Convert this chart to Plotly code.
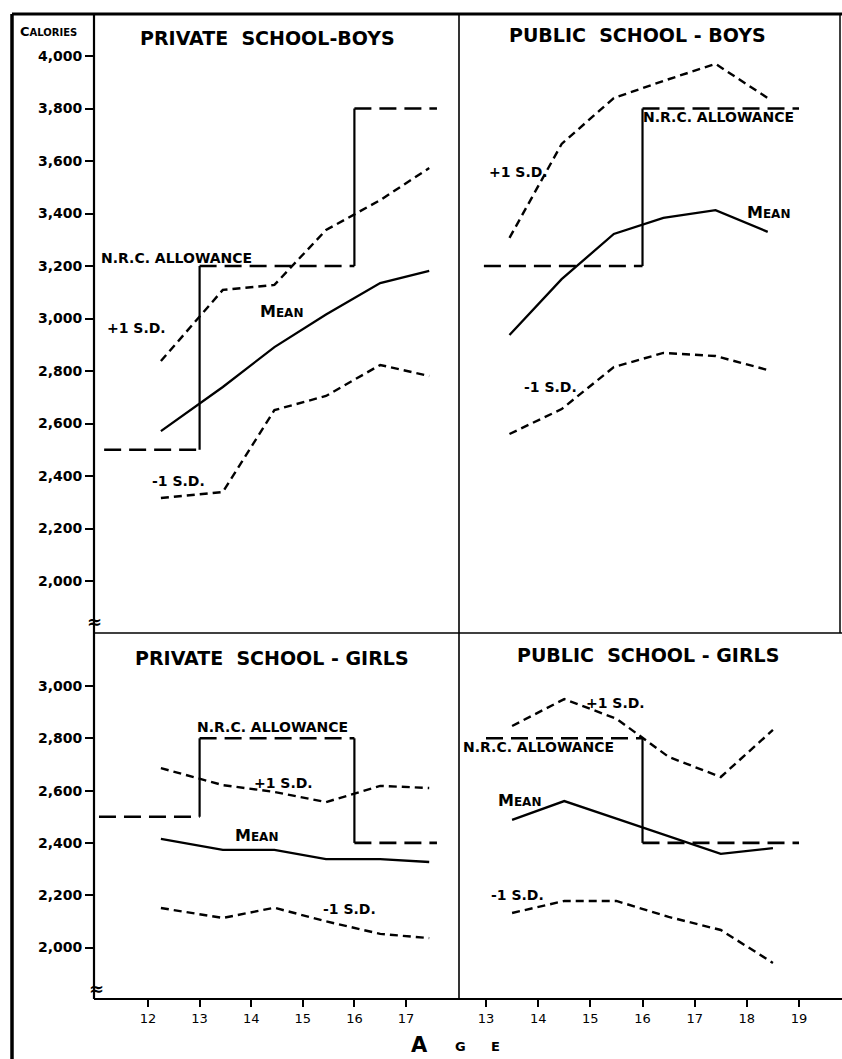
import plotly.graph_objects as go

W, H = 842, 1059

# ---------------- data ----------------
# Private school - boys
pvt_boys_age = [12.25, 13.45, 14.45, 15.45, 16.5, 17.45]
pvt_boys_mean = [2571, 2739, 2891, 3015, 3135, 3181]
pvt_boys_plus = [2838, 3109, 3128, 3337, 3451, 3573]
pvt_boys_minus = [2316, 2339, 2651, 2705, 2823, 2781]
pvt_boys_nrc_edges = [11.15, 13.0, 16.0, 17.6]
pvt_boys_nrc_levels = [2500, 3200, 3800]

# Public school - boys
pub_boys_age = [13.45, 14.45, 15.45, 16.4, 17.4, 18.4]
pub_boys_mean = [2937, 3150, 3322, 3383, 3413, 3330]
pub_boys_plus = [3307, 3665, 3840, 3905, 3970, 3840]
pub_boys_minus = [2560, 2655, 2815, 2869, 2857, 2804]
pub_boys_nrc_edges = [12.96, 16.0, 19.0]
pub_boys_nrc_levels = [3200, 3800]

# Private school - girls
pvt_girls_age = [12.25, 13.45, 14.45, 15.45, 16.5, 17.45]
pvt_girls_mean = [2415, 2373, 2373, 2338, 2338, 2327]
pvt_girls_plus = [2686, 2621, 2595, 2556, 2618, 2610]
pvt_girls_minus = [2151, 2113, 2152, 2100, 2052, 2036]
pvt_girls_nrc_edges = [11.05, 13.0, 16.0, 17.6]
pvt_girls_nrc_levels = [2500, 2800, 2400]

# Public school - girls
pub_girls_age = [13.5, 14.5, 15.5, 16.5, 17.5, 18.5]
pub_girls_mean = [2488, 2560, 2493, 2426, 2358, 2380]
pub_girls_plus = [2847, 2950, 2875, 2729, 2652, 2832]
pub_girls_minus = [2132, 2178, 2178, 2117, 2067, 1941]
pub_girls_nrc_edges = [13.0, 16.0, 19.0]
pub_girls_nrc_levels = [2800, 2400]

# axis ticks
boys_cal_ticks = [2000, 2200, 2400, 2600, 2800, 3000, 3200, 3400, 3600, 3800, 4000]
girls_cal_ticks = [2000, 2200, 2400, 2600, 2800, 3000]
private_age_ticks = [12, 13, 14, 15, 16, 17]
public_age_ticks = [13, 14, 15, 16, 17, 18, 19]

FONT = "DejaVu Sans"
INK = "black"


def px(x):
    return x / W


def py(y):
    return 1 - y / H


def cal_label(v):
    return f"{v:,}"


fig = go.Figure()

panels = [
    ("x", "y", pvt_boys_age, pvt_boys_mean, pvt_boys_plus, pvt_boys_minus,
     pvt_boys_nrc_edges, pvt_boys_nrc_levels),
    ("x2", "y2", pub_boys_age, pub_boys_mean, pub_boys_plus, pub_boys_minus,
     pub_boys_nrc_edges, pub_boys_nrc_levels),
    ("x3", "y3", pvt_girls_age, pvt_girls_mean, pvt_girls_plus, pvt_girls_minus,
     pvt_girls_nrc_edges, pvt_girls_nrc_levels),
    ("x4", "y4", pub_girls_age, pub_girls_mean, pub_girls_plus, pub_girls_minus,
     pub_girls_nrc_edges, pub_girls_nrc_levels),
]

for xa, ya, age, mean, plus, minus, edges, levels in panels:
    # N.R.C. allowance: dashed horizontal steps joined by solid risers
    hx, hy, vx, vy = [], [], [], []
    for i, lv in enumerate(levels):
        hx += [edges[i], edges[i + 1], None]
        hy += [lv, lv, None]
        if i + 1 < len(levels):
            vx += [edges[i + 1], edges[i + 1], None]
            vy += [lv, levels[i + 1], None]
    fig.add_trace(go.Scatter(x=hx, y=hy, mode="lines", xaxis=xa, yaxis=ya,
                             line=dict(color=INK, width=2.6, dash="17px,8px")))
    fig.add_trace(go.Scatter(x=vx, y=vy, mode="lines", xaxis=xa, yaxis=ya,
                             line=dict(color=INK, width=2.2)))
    # +/- 1 S.D. bands
    for sd in (plus, minus):
        fig.add_trace(go.Scatter(x=age, y=sd, mode="lines", xaxis=xa, yaxis=ya,
                                 line=dict(color=INK, width=2.4, dash="8px,5px")))
    # mean
    fig.add_trace(go.Scatter(x=age, y=mean, mode="lines", xaxis=xa, yaxis=ya,
                             line=dict(color=INK, width=2.3)))

# pixel geometry of the panel grid
LEFT, MID, RIGHT = 94, 459, 842
TOP, ROWSPLIT, BOTTOM = 14, 633, 999


def left_age(p):
    return 12 + (p - 148) / 51.6


def right_age(p):
    return 13 + (p - 486) / 52.17


def boys_cal(p):
    return 4000 - (p - 56) / 0.2625


def girls_cal(p):
    return 3000 - (p - 686) / 0.2615


tickfont = dict(family=FONT, size=14, color=INK, weight="bold")
xtickfont = dict(family=FONT, size=13, color=INK)

base_x = dict(showgrid=False, zeroline=False, showline=False, fixedrange=True)
base_y = dict(showgrid=False, zeroline=False, showline=False, fixedrange=True)

fig.update_layout(
    width=W, height=H,
    margin=dict(l=0, r=0, t=0, b=0),
    paper_bgcolor="white", plot_bgcolor="white",
    showlegend=False,
    font=dict(family=FONT, color=INK),
    xaxis=dict(base_x, domain=[px(LEFT), px(MID)], anchor="y",
               range=[left_age(LEFT), left_age(MID)], showticklabels=False, ticks=""),
    xaxis2=dict(base_x, domain=[px(MID), px(RIGHT)], anchor="y2",
                range=[right_age(MID), right_age(RIGHT)], showticklabels=False, ticks=""),
    xaxis3=dict(base_x, domain=[px(LEFT), px(MID)], anchor="y3",
                range=[left_age(LEFT), left_age(MID)],
                tickvals=private_age_ticks, ticktext=[str(v) for v in private_age_ticks],
                ticks="outside", ticklen=7, tickwidth=2, tickcolor=INK, tickfont=xtickfont),
    xaxis4=dict(base_x, domain=[px(MID), px(RIGHT)], anchor="y4",
                range=[right_age(MID), right_age(RIGHT)],
                tickvals=public_age_ticks, ticktext=[str(v) for v in public_age_ticks],
                ticks="outside", ticklen=7, tickwidth=2, tickcolor=INK, tickfont=xtickfont),
    yaxis=dict(base_y, domain=[py(ROWSPLIT), py(TOP)], anchor="x",
               range=[boys_cal(ROWSPLIT), boys_cal(TOP)],
               tickvals=boys_cal_ticks, ticktext=[cal_label(v) for v in boys_cal_ticks],
               ticks="outside", ticklen=8, tickwidth=2, tickcolor=INK, tickfont=tickfont),
    yaxis2=dict(base_y, domain=[py(ROWSPLIT), py(TOP)], anchor="x2",
                range=[boys_cal(ROWSPLIT), boys_cal(TOP)], showticklabels=False, ticks=""),
    yaxis3=dict(base_y, domain=[py(BOTTOM), py(ROWSPLIT)], anchor="x3",
                range=[girls_cal(BOTTOM), girls_cal(ROWSPLIT)],
                tickvals=girls_cal_ticks, ticktext=[cal_label(v) for v in girls_cal_ticks],
                ticks="outside", ticklen=8, tickwidth=2, tickcolor=INK, tickfont=tickfont),
    yaxis4=dict(base_y, domain=[py(BOTTOM), py(ROWSPLIT)], anchor="x4",
                range=[girls_cal(BOTTOM), girls_cal(ROWSPLIT)], showticklabels=False, ticks=""),
)

# frame, dividers and axis lines
def seg(x0, y0, x1, y1, w):
    fig.add_shape(type="line", xref="paper", yref="paper",
                  x0=px(x0), y0=py(y0), x1=px(x1), y1=py(y1),
                  line=dict(color=INK, width=w), layer="above")


seg(12, TOP, 12, H, 3.5)            # outer left border
seg(12, TOP, RIGHT, TOP, 3)         # outer top border
seg(840, TOP, 840, ROWSPLIT, 1.5)   # right border of upper row
seg(MID, TOP, MID, BOTTOM, 1.6)     # vertical divider
seg(LEFT, ROWSPLIT, RIGHT, ROWSPLIT, 1.6)  # horizontal divider
seg(LEFT, TOP, LEFT, BOTTOM, 2.2)   # calorie axis
seg(LEFT, BOTTOM, RIGHT, BOTTOM, 2.2)  # age axis


def label(text, x, y, size=13, xanchor="center"):
    fig.add_annotation(text=text, xref="paper", yref="paper",
                       x=px(x), y=py(y), xanchor=xanchor, yanchor="middle",
                       showarrow=False,
                       font=dict(family=FONT, size=size, color=INK, weight="bold"))


mean_txt = "M<span style='font-size:12px'>EAN</span>"
sd_size = 14
nrc_size = 14

# upper left
label("PRIVATE  SCHOOL-BOYS", 267, 38, 19)
label("C<span style='font-size:10px'>ALORIES</span>", 48, 31, 13)
label("N.R.C. ALLOWANCE", 176, 258, nrc_size)
label(mean_txt, 281, 311, 16)
label("+1 S.D.", 136, 328, sd_size)
label("-1 S.D.", 178, 481, sd_size)
# upper right
label("PUBLIC  SCHOOL - BOYS", 637, 35, 19)
label("N.R.C. ALLOWANCE", 718, 117, nrc_size)
label("+1 S.D.", 518, 172, sd_size)
label(mean_txt, 768, 212, 16)
label("-1 S.D.", 550, 387, sd_size)
# lower left
label("PRIVATE  SCHOOL - GIRLS", 272, 658, 19)
label("N.R.C. ALLOWANCE", 272, 727, nrc_size)
label("+1 S.D.", 283, 783, sd_size)
label(mean_txt, 256, 835, 16)
label("-1 S.D.", 349, 909, sd_size)
# lower right
label("PUBLIC  SCHOOL - GIRLS", 648, 655, 19)
label("+1 S.D.", 615, 703, sd_size)
label("N.R.C. ALLOWANCE", 538, 747, nrc_size)
label(mean_txt, 519, 800, 16)
label("-1 S.D.", 517, 895, sd_size)

# axis breaks
label("≈", 94, 621, 18)
label("≈", 96, 988, 18)

# age title
label("A", 419, 1045, 21)
label("G", 460, 1046, 13)
label("E", 496, 1046, 13)

fig.write_html("out.html")
